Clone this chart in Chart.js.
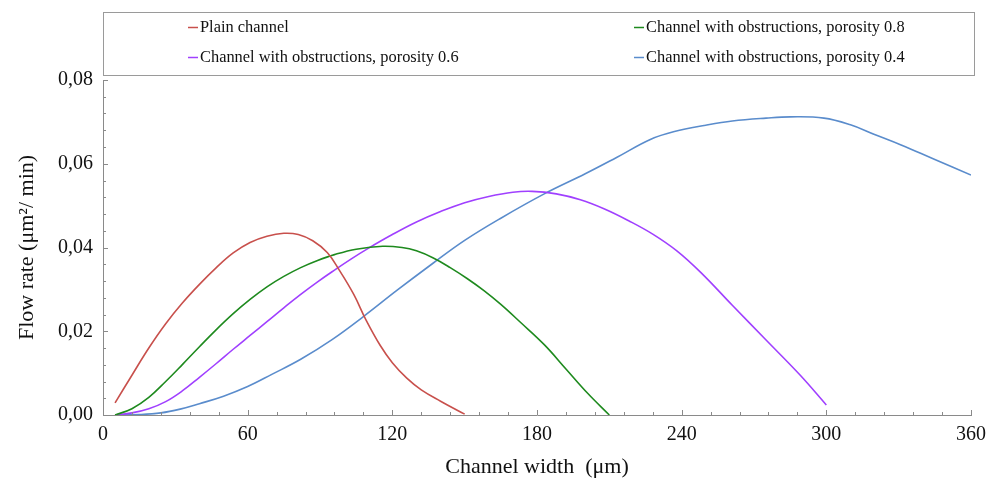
<!DOCTYPE html>
<html>
<head>
<meta charset="utf-8">
<script src="https://cdn.jsdelivr.net/npm/chart.js@4/dist/chart.umd.min.js"></script>
<style>
  html, body { margin: 0; padding: 0; background: #ffffff; }
  #wrap { width: 998px; height: 482px; position: relative; }
</style>
</head>
<body>
<div id="wrap"><canvas id="c" width="998" height="482"></canvas></div>
<script>
// ---- data ----
const seriesLabels = [
  "Plain channel",
  "Channel with obstructions, porosity 0.8",
  "Channel with obstructions, porosity 0.6",
  "Channel with obstructions, porosity 0.4"
];

const plainX = [5, 12, 19, 26, 33, 40, 47, 54, 61, 68, 75, 81, 87, 93, 98, 104, 109, 115, 120, 126, 132, 140, 150];
const plainY = [0.0029, 0.0095, 0.0160, 0.0218, 0.0268, 0.0312, 0.0352, 0.0387, 0.0412, 0.0427, 0.0434, 0.0431, 0.0416, 0.0388, 0.0346, 0.0288, 0.0228, 0.0166, 0.0125, 0.0088, 0.0060, 0.0033, 0.0002];

const p08X = [5, 12, 19, 26, 33, 40, 47, 54, 61, 68, 75, 82, 89, 96, 105, 116, 124, 130, 137, 144, 151, 158, 165, 173, 183, 192, 201, 210];
const p08Y = [0.0000, 0.0015, 0.0042, 0.0080, 0.0121, 0.0163, 0.0204, 0.0242, 0.0276, 0.0306, 0.0331, 0.0352, 0.0369, 0.0383, 0.0396, 0.0403, 0.0400, 0.0392, 0.0375, 0.0352, 0.0326, 0.0297, 0.0264, 0.0222, 0.0168, 0.0110, 0.0052, 0.0000];

const p06X = [5, 12, 19, 26, 33, 40, 47, 54, 61, 68, 75, 82, 89, 96, 103, 110, 120, 130, 140, 150, 160, 170, 178, 188, 198, 208, 218, 228, 238, 248, 261, 275, 289, 300];
const p06Y = [0.0000, 0.0005, 0.0015, 0.0032, 0.0058, 0.0090, 0.0123, 0.0157, 0.0190, 0.0223, 0.0256, 0.0288, 0.0318, 0.0346, 0.0373, 0.0398, 0.0431, 0.0461, 0.0486, 0.0507, 0.0522, 0.0532, 0.0534, 0.0528, 0.0514, 0.0492, 0.0464, 0.0432, 0.0392, 0.0340, 0.0262, 0.0179, 0.0096, 0.0024];

const p04X = [5, 15, 24, 32, 40, 50, 60, 70, 82, 95, 108, 122, 137, 150, 165, 183, 200, 213, 227, 237, 250, 261, 275, 285, 299, 310, 320, 331, 345, 360];
const p04Y = [0.0000, 0.0001, 0.0005, 0.0014, 0.0027, 0.0045, 0.0068, 0.0097, 0.0133, 0.0180, 0.0235, 0.0298, 0.0363, 0.0417, 0.0470, 0.0528, 0.0576, 0.0615, 0.0658, 0.0677, 0.0692, 0.0702, 0.0709, 0.0712, 0.0709, 0.0693, 0.0670, 0.0645, 0.0610, 0.0573];

const xTickValues = [0, 60, 120, 180, 240, 300, 360];
const yTickValues = [0.00, 0.02, 0.04, 0.06, 0.08];

const seriesColors = ["#c8504c", "#1e8a1e", "#a040ff", "#5a8ccc"];

// ---- build ----
function pts(xs, ys) { return xs.map((x, i) => ({ x: x, y: ys[i] })); }
const allX = [plainX, p08X, p06X, p04X];
const allY = [plainY, p08Y, p06Y, p04Y];

const datasets = seriesLabels.map((lab, i) => ({
  label: lab,
  data: pts(allX[i], allY[i]),
  borderColor: seriesColors[i],
  backgroundColor: seriesColors[i],
  borderWidth: 1.6,
  pointRadius: 0,
  fill: false,
  tension: 0.4
}));

const FONT = "'Liberation Serif', 'Times New Roman', serif";
const AXIS_COLOR = "#8a8a8a";

const decorPlugin = {
  id: 'decor',
  afterDraw(chart) {
    const ctx = chart.ctx;
    const xs = chart.scales.x, ys = chart.scales.y;
    const area = chart.chartArea;
    ctx.save();
    // inward tick marks
    ctx.strokeStyle = AXIS_COLOR;
    ctx.lineWidth = 1;
    ctx.beginPath();
    for (let v = 0; v <= 360; v += 12) {
      const px = Math.round(xs.getPixelForValue(v)) + 0.5;
      const len = (v % 60 === 0) ? 5 : 3;
      ctx.moveTo(px, area.bottom);
      ctx.lineTo(px, area.bottom - len);
    }
    for (let k = 0; k <= 20; k++) {
      const v = k * 0.004;
      const py = Math.round(ys.getPixelForValue(v)) + 0.5;
      const len = (k % 5 === 0) ? 5 : 3;
      ctx.moveTo(area.left, py);
      ctx.lineTo(area.left + len, py);
    }
    ctx.stroke();

    // legend box
    ctx.strokeStyle = "#9a9a9a";
    ctx.strokeRect(103.5, 12.5, 871, 63);
    const pos = [[188, 27], [634, 27], [188, 57], [634, 57]];
    ctx.font = "16.4px " + FONT;
    ctx.textBaseline = "middle";
    ctx.textAlign = "left";
    chart.data.datasets.forEach((ds, i) => {
      const [lx, ly] = pos[i];
      ctx.strokeStyle = ds.borderColor;
      ctx.lineWidth = 1.5;
      ctx.beginPath();
      ctx.moveTo(lx, ly + 0.5);
      ctx.lineTo(lx + 10, ly + 0.5);
      ctx.stroke();
      ctx.fillStyle = "#111";
      ctx.fillText(ds.label, lx + 12, ly + 1);
    });
    ctx.restore();
  }
};

new Chart(document.getElementById('c'), {
  type: 'line',
  data: { datasets: datasets },
  options: {
    responsive: false,
    animation: false,
    layout: { padding: { top: 80, right: 27, left: 0, bottom: 0 } },
    plugins: { legend: { display: false }, tooltip: { enabled: false } },
    scales: {
      x: {
        type: 'linear',
        min: 0, max: 360,
        afterFit(s) { s.height = 67; },
        afterBuildTicks(s) { s.ticks = xTickValues.map(v => ({ value: v })); },
        grid: { display: false, drawTicks: false },
        border: { display: true, color: AXIS_COLOR, width: 1 },
        ticks: {
          padding: 8,
          maxRotation: 0,
          autoSkip: false,
          color: "#111",
          font: { family: FONT, size: 20 },
          callback: (v) => String(v)
        },
        title: {
          display: true,
          text: "Channel width  (\u03bcm)",
          color: "#111",
          font: { family: FONT, size: 22 },
          padding: { top: 0, bottom: 2 }
        }
      },
      y: {
        type: 'linear',
        min: 0, max: 0.08,
        afterFit(s) { s.width = 103; },
        afterBuildTicks(s) { s.ticks = yTickValues.map(v => ({ value: v })); },
        grid: { display: false, drawTicks: false },
        border: { display: true, color: AXIS_COLOR, width: 1 },
        ticks: {
          padding: 10,
          autoSkip: false,
          color: "#111",
          font: { family: FONT, size: 20 },
          callback: (v) => Number(v).toFixed(2).replace('.', ',')
        },
        title: {
          display: true,
          text: "Flow rate (\u03bcm\u00b2/ min)",
          color: "#111",
          font: { family: FONT, size: 22 },
          padding: { top: 14, bottom: 0 }
        }
      }
    }
  },
  plugins: [decorPlugin]
});
</script>
</body>
</html>
